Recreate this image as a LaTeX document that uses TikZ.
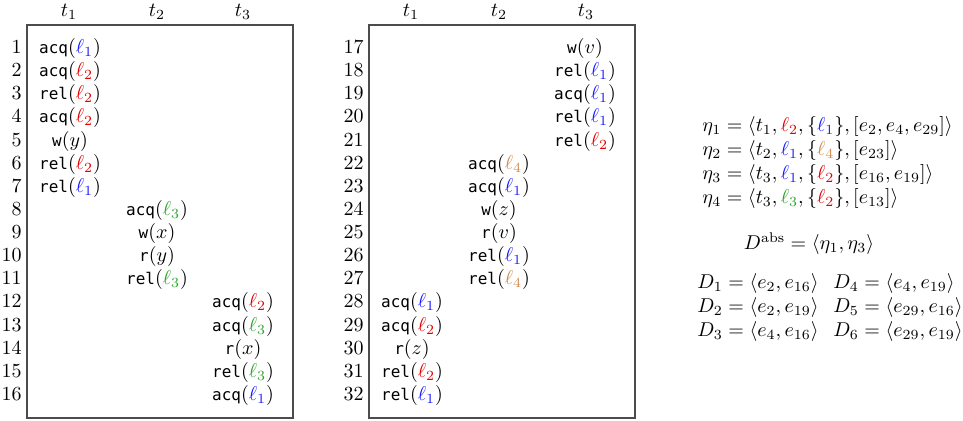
\documentclass[tikz,border=0pt]{standalone}
\usepackage{fontspec}
\setmonofont{DejaVu Sans Mono}[Scale=0.8]
\definecolor{lblue}{RGB}{25,25,255}
\definecolor{lred}{RGB}{225,0,0}
\definecolor{lgreen}{RGB}{40,165,40}
\definecolor{ltan}{RGB}{205,140,80}
\newcommand{\La}{{\color{lblue}\ell_1}}
\newcommand{\Lr}{{\color{lred}\ell_2}}
\newcommand{\Lg}{{\color{lgreen}\ell_3}}
\newcommand{\Lt}{{\color{ltan}\ell_4}}
\newcommand{\Acq}[1]{\texttt{acq}$(#1)$}
\newcommand{\Rel}[1]{\texttt{rel}$(#1)$}
\newcommand{\Wr}[1]{\texttt{w}$(#1)$}
\newcommand{\Rd}[1]{\texttt{r}$(#1)$}
\tikzset{
  ev/.style={inner sep=0pt, anchor=center, text height=7pt, text depth=2.5pt, font=\fontsize{10}{12}\selectfont},
  num/.style={inner sep=0pt, anchor=east, text height=7pt, text depth=2.5pt, font=\fontsize{10}{12}\selectfont},
  hdr/.style={inner sep=0pt, anchor=center, text height=7pt, text depth=2.5pt, font=\fontsize{10}{12}\selectfont},
  eq/.style={inner sep=0pt, anchor=west, text height=7pt, text depth=2.5pt, font=\fontsize{10}{12}\selectfont},
  framebox/.style={draw=black!70, line width=0.6pt}
}
\begin{document}
\begin{tikzpicture}[x=0.5pt,y=-0.5pt]
\useasboundingbox (0,0) rectangle (963,420);
% boxes
\draw[framebox] (27,25) rectangle (293,418);
\draw[framebox] (369,25) rectangle (635,418);
% headers
\node[hdr] (h1a) at (69,12) {$t_1$};
\node[hdr] (h2a) at (157,12) {$t_2$};
\node[hdr] (h3a) at (243,12) {$t_3$};
\node[hdr] (h1b) at (411,12) {$t_1$};
\node[hdr] (h2b) at (499,12) {$t_2$};
\node[hdr] (h3b) at (586,12) {$t_3$};
% row numbers
\foreach \i in {1,...,16}{
  \node[num] (n\i) at (22,{49+(\i-1)*23.13}) {\i};
}
\foreach \i in {17,...,32}{
  \node[num] (n\i) at (364,{49+(\i-17)*23.13}) {\i};
}
% box 1 events
\node[ev] (e1) at (70,49.0) {\Acq{\La}};
\node[ev] (e2) at (70,72.1) {\Acq{\Lr}};
\node[ev] (e3) at (70,95.3) {\Rel{\Lr}};
\node[ev] (e4) at (70,118.4) {\Acq{\Lr}};
\node[ev] (e5) at (70,141.5) {\Wr{y}};
\node[ev] (e6) at (70,164.7) {\Rel{\Lr}};
\node[ev] (e7) at (70,187.8) {\Rel{\La}};
\node[ev] (e8) at (157,210.9) {\Acq{\Lg}};
\node[ev] (e9) at (157,234.0) {\Wr{x}};
\node[ev] (e10) at (157,257.2) {\Rd{y}};
\node[ev] (e11) at (157,280.3) {\Rel{\Lg}};
\node[ev] (e12) at (243,303.4) {\Acq{\Lr}};
\node[ev] (e13) at (243,326.6) {\Acq{\Lg}};
\node[ev] (e14) at (243,349.7) {\Rd{x}};
\node[ev] (e15) at (243,372.8) {\Rel{\Lg}};
\node[ev] (e16) at (243,396.0) {\Acq{\La}};
% box 2 events
\node[ev] (e17) at (585,49.0) {\Wr{v}};
\node[ev] (e18) at (585,72.1) {\Rel{\La}};
\node[ev] (e19) at (585,95.3) {\Acq{\La}};
\node[ev] (e20) at (585,118.4) {\Rel{\La}};
\node[ev] (e21) at (585,141.5) {\Rel{\Lr}};
\node[ev] (e22) at (499,164.7) {\Acq{\Lt}};
\node[ev] (e23) at (499,187.8) {\Acq{\La}};
\node[ev] (e24) at (499,210.9) {\Wr{z}};
\node[ev] (e25) at (499,234.0) {\Rd{v}};
\node[ev] (e26) at (499,257.2) {\Rel{\La}};
\node[ev] (e27) at (499,280.3) {\Rel{\Lt}};
\node[ev] (e28) at (412,303.4) {\Acq{\La}};
\node[ev] (e29) at (412,326.6) {\Acq{\Lr}};
\node[ev] (e30) at (412,349.7) {\Rd{z}};
\node[ev] (e31) at (412,372.8) {\Rel{\Lr}};
\node[ev] (e32) at (412,396.0) {\Rel{\La}};
% right side
\node[eq] (eta1) at (702,127) {$\eta_1 = \langle t_1, \Lr, \{\La\}, [e_2, e_4, e_{29}]\rangle$};
\node[eq] (eta2) at (702,151) {$\eta_2 = \langle t_2, \La, \{\Lt\}, [e_{23}]\rangle$};
\node[eq] (eta3) at (702,175) {$\eta_3 = \langle t_3, \La, \{\Lr\}, [e_{16}, e_{19}]\rangle$};
\node[eq] (eta4) at (702,199) {$\eta_4 = \langle t_3, \Lg, \{\Lr\}, [e_{13}]\rangle$};
\node[hdr] (dabs) at (809,245) {$D^{\mathrm{abs}} = \langle \eta_1, \eta_3\rangle$};
\node[eq] (d1) at (697,284) {$D_1 = \langle e_2, e_{16}\rangle$};
\node[eq] (d2) at (697,308) {$D_2 = \langle e_2, e_{19}\rangle$};
\node[eq] (d3) at (697,332) {$D_3 = \langle e_4, e_{16}\rangle$};
\node[eq] (d4) at (833,284) {$D_4 = \langle e_4, e_{19}\rangle$};
\node[eq] (d5) at (833,308) {$D_5 = \langle e_{29}, e_{16}\rangle$};
\node[eq] (d6) at (833,332) {$D_6 = \langle e_{29}, e_{19}\rangle$};
\end{tikzpicture}
\end{document}
